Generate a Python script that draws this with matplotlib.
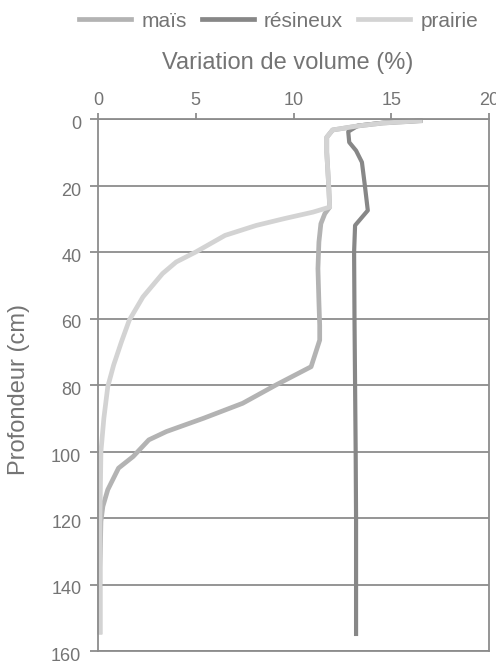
import matplotlib
matplotlib.use("Agg")
import matplotlib.pyplot as plt
from matplotlib.lines import Line2D
from matplotlib.transforms import ScaledTranslation

plt.rcParams['font.family'] = ['Liberation Sans', 'DejaVu Sans']

# ---- data ----
series_names = ["maïs", "résineux", "prairie"]

mais_depth = [0.5, 1.2, 2.0, 3.3, 5.5, 10, 15, 20, 26.5, 28.5, 31.5, 37, 45, 55, 62, 66.5, 74.5, 80, 85.5, 90, 94, 96.5, 101.5, 105, 111.5, 116.5, 121, 135, 155]
mais_val = [16.6, 14.6, 13.4, 12.0, 11.7, 11.7, 11.75, 11.8, 11.85, 11.6, 11.4, 11.3, 11.25, 11.3, 11.34, 11.34, 10.9, 9.1, 7.4, 5.4, 3.5, 2.6, 1.8, 1.05, 0.5, 0.25, 0.15, 0.1, 0.1]

resineux_depth = [0.5, 1.1, 2.0, 3.8, 7, 9.5, 13, 20, 27.5, 32, 40, 60, 80, 100, 120, 140, 155.5]
resineux_val = [16.6, 14.6, 13.3, 12.8, 12.85, 13.2, 13.5, 13.65, 13.8, 13.15, 13.1, 13.12, 13.15, 13.18, 13.2, 13.2, 13.2]

prairie_depth = [0.5, 1.2, 2.0, 3.3, 5.5, 10, 15, 20, 26.5, 28, 30, 32, 35, 40, 43, 46.5, 53.5, 60.5, 67, 74, 80.5, 90, 100, 120, 155]
prairie_val = [16.6, 14.6, 13.4, 12.0, 11.7, 11.7, 11.75, 11.8, 11.85, 11.0, 9.5, 8.1, 6.5, 5.0, 4.0, 3.3, 2.3, 1.6, 1.2, 0.8, 0.5, 0.3, 0.15, 0.1, 0.1]

x_ticks = [0, 5, 10, 15, 20]
y_ticks = [0, 20, 40, 60, 80, 100, 120, 140, 160]

title_text = "Variation de volume (%)"
ylabel_text = "Profondeur (cm)"

# ---- style ----
col_mais = "#b3b3b3"
col_res = "#878787"
col_prai = "#d3d3d3"
grid_c = "#8c8c8c"
text_c = "#747474"

fig = plt.figure(figsize=(4.96, 6.64), dpi=100)
ax = fig.add_axes([98 / 496, 1 - 651 / 664, (489 - 98) / 496, (651 - 119) / 664])

kw = dict(solid_joinstyle="round", solid_capstyle="butt", clip_on=False)
l1, = ax.plot(mais_val, mais_depth, color=col_mais, lw=3.4, **kw)
l2, = ax.plot(resineux_val, resineux_depth, color=col_res, lw=3.0, **kw)
l3, = ax.plot(prairie_val, prairie_depth, color=col_prai, lw=3.4, **kw)

ax.set_xlim(0, 20)
ax.set_ylim(160, 0)
ax.xaxis.tick_top()
ax.set_xticks(x_ticks)
ax.set_yticks(y_ticks)
ax.grid(axis="y", color=grid_c, lw=1.3)
ax.grid(axis="x", visible=False)
ax.set_axisbelow(True)
for s in ax.spines.values():
    s.set_color(grid_c)
    s.set_linewidth(1.3)

ax.tick_params(axis="x", which="both", top=True, bottom=False, labeltop=True, labelbottom=False,
               direction="out", length=4.5, width=1.3, color=grid_c, labelsize=13,
               labelcolor=text_c, pad=3)
ax.tick_params(axis="y", direction="out", length=6, width=1.3, color=grid_c, labelsize=13,
               labelcolor=text_c, pad=6)

# y tick labels sit slightly below their gridlines in the reference
off = ScaledTranslation(0, -3.5 / 100, fig.dpi_scale_trans)
for t in ax.yaxis.get_major_ticks():
    t.label1.set_transform(t.label1.get_transform() + off)

handles = [Line2D([], [], color=col_mais, lw=3.4),
           Line2D([], [], color=col_res, lw=3.4),
           Line2D([], [], color=col_prai, lw=3.4)]
fig.legend(handles, series_names, loc="center", bbox_to_anchor=(0.5615, 0.968), ncol=3,
           frameon=False, fontsize=15, handlelength=2.5, handletextpad=0.5,
           columnspacing=0.7, labelcolor=text_c, borderaxespad=0, borderpad=0)

fig.text(0.58, 0.905, title_text, ha="center", va="center", fontsize=17, color=text_c)
fig.text(0.038, 0.4127, ylabel_text, ha="center", va="center", rotation=90, fontsize=17, color=text_c)

fig.savefig("out.png", dpi=100)
